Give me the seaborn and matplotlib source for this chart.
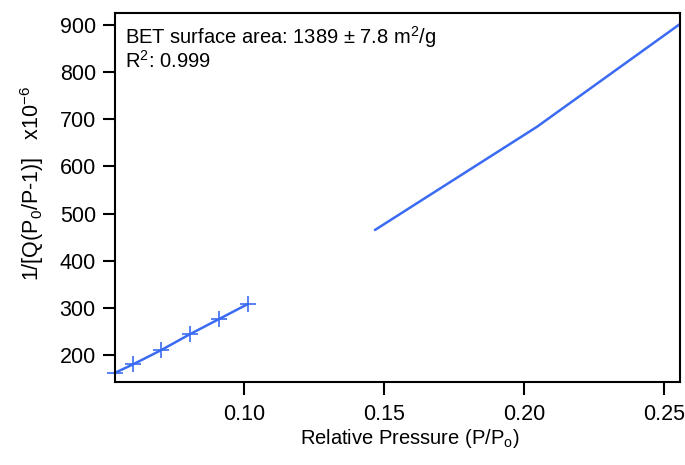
import numpy as np
import pandas as pd
import matplotlib
matplotlib.use('Agg')
import matplotlib.pyplot as plt
import seaborn as sns


# BET fit points (with markers)
fit_p = [0.0539, 0.0603, 0.0704, 0.0805, 0.0908, 0.1013]
fit_y = [162.5, 180.3, 210.6, 243.9, 275.7, 308.2]

# higher pressure points (line only)
high_p = [0.1467, 0.2045, 0.2557]
high_y = [465.2, 683.7, 902.1]

x_ticks = [0.10, 0.15, 0.20, 0.25]
y_ticks = [200, 300, 400, 500, 600, 700, 800, 900]

blue = '#3A6BF2'

sns.set_style('ticks')
plt.rcParams['font.family'] = ['Liberation Sans', 'DejaVu Sans']
plt.rcParams['mathtext.fontset'] = 'custom'
plt.rcParams['mathtext.rm'] = 'Liberation Sans'
plt.rcParams['mathtext.it'] = 'Liberation Sans'
plt.rcParams['text.color'] = 'black'
plt.rcParams['axes.labelcolor'] = 'black'

fig = plt.figure(figsize=(6.85, 4.65), dpi=100)
ax = fig.add_axes([0.1683, 0.1785, 0.9927 - 0.1683, 0.9714 - 0.1785])

df_fit = pd.DataFrame({'p': fit_p, 'y': fit_y})
df_high = pd.DataFrame({'p': high_p, 'y': high_y})

sns.lineplot(data=df_fit, x='p', y='y', ax=ax, color=blue, lw=1.8,
             marker='+', markersize=12, markeredgewidth=1.2, markeredgecolor=blue,
             sort=False, clip_on=False)
sns.lineplot(data=df_high, x='p', y='y', ax=ax, color=blue, lw=1.8, sort=False)

ax.set_xlim(0.0539, 0.2557)
ax.set_ylim(142.7, 924.8)
ax.set_xticks(x_ticks)
ax.set_xticklabels([f'{t:.2f}' for t in x_ticks])
ax.set_yticks(y_ticks)

for s in ax.spines.values():
    s.set_linewidth(1.5)
    s.set_color('black')
ax.tick_params(direction='out', length=9, width=1.5, labelsize=15.5, pad=5, colors='black')
ax.tick_params(axis='x', pad=7)

ax.set_xlabel('Relative Pressure (P/P$_\\mathregular{o}$)', fontsize=14.5)
ax.set_ylabel('1/[Q(P$_\\mathregular{0}$/P-1)]   x10$^\\mathregular{-6}$', fontsize=15.5)
ax.xaxis.set_label_coords(0.522, -0.122)
ax.yaxis.set_label_coords(-0.123, 0.54)

ax.text(0.018, 0.972, 'BET surface area: 1389 ± 7.8 m$^\\mathregular{2}$/g\nR$^\\mathregular{2}$: 0.999',
        transform=ax.transAxes, ha='left', va='top', fontsize=14.5, linespacing=1.0)

fig.savefig('out.png', dpi=100)
